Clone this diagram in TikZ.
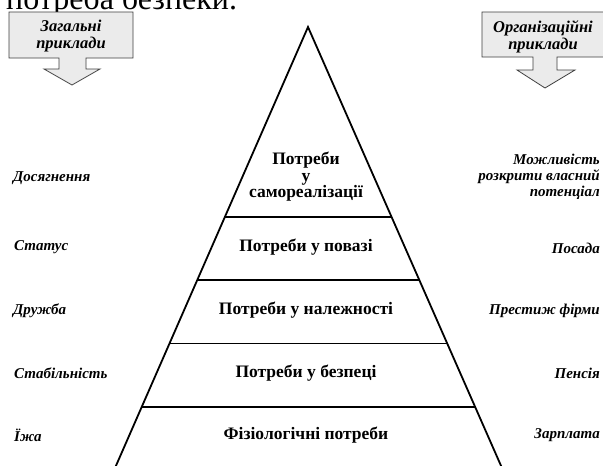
\documentclass[tikz,border=0pt]{standalone}
\usepackage{fontspec}
\setmainfont{Liberation Serif}
\usetikzlibrary{calc}
\tikzset{
  pyr/.style={line width=1.8pt, line cap=round},
  level/.style={line width=1.6pt},
  needtext/.style={font=\fontsize{17.5}{16.5}\selectfont\bfseries, align=center, inner sep=0pt},
  lefttext/.style={font=\fontsize{15}{16}\selectfont\bfseries\itshape, anchor=west, inner sep=0pt},
  righttext/.style={font=\fontsize{15}{16}\selectfont\bfseries\itshape, anchor=east, align=right, inner sep=0pt},
  callout/.style={draw=black!75, fill=black!8, line width=0.8pt, line join=miter},
  callouttext/.style={font=\fontsize{16.5}{17}\selectfont\bfseries\itshape, align=center, inner sep=0pt},
}
\begin{document}
\begin{tikzpicture}[x=1pt,y=-1pt]
\clip (0,0) rectangle (603,466);
\fill[white] (0,0) rectangle (603,466);

% cut-off body text at the top
\node[anchor=base west, inner sep=0pt, font=\fontsize{32}{36}\selectfont] (toptext) at (6,9) {потреба безпеки.};

% callouts
\draw[callout] (9,12) -- (133,12) -- (133,58) -- (86,58) -- (86,69) -- (100,69) -- (72,85) -- (44,69) -- (59,69) -- (59,58) -- (9,58) -- cycle;
\node[callouttext] (gen) at (71,36) {Загальні\\приклади};
\draw[callout] (482,12) -- (604,12) -- (604,57) -- (557,57) -- (557,70) -- (575,70) -- (545,88) -- (517,70) -- (533,70) -- (533,57) -- (482,57) -- cycle;
\node[callouttext] (org) at (543,37) {Організаційні\\приклади};

% pyramid
\coordinate (apex) at (308,27);
\coordinate (bl) at (115,468);
\coordinate (br) at (502,468);
\draw[pyr] (bl) -- (apex) -- (br);
\foreach \t/\n in {0.4305/a,0.574/b,0.7175/c,0.861/d}{
  \draw[level] ($(apex)!\t!(bl)$) coordinate (l\n) -- ($(apex)!\t!(br)$) coordinate (r\n);
}

% need labels
\node[needtext] (n5) at (306,177) {Потреби\\у\\самореалізації};
\node[needtext] (n4) at (306,247) {Потреби у повазі};
\node[needtext] (n3) at (306,310) {Потреби у належності};
\node[needtext] (n2) at (306,373) {Потреби у безпеці};
\node[needtext] (n1) at (306,435) {Фізіологічні потреби};

% left examples
\node[lefttext] (g5) at (13,178) {Досягнення};
\node[lefttext] (g4) at (14,247) {Статус};
\node[lefttext] (g3) at (13,311) {Дружба};
\node[lefttext] (g2) at (14,373) {Стабільність};
\node[lefttext] (g1) at (14,435) {Їжа};

% right examples
\node[righttext] (o5) at (600,177) {Можливість\\розкрити власний\\потенціал};
\node[righttext] (o4) at (600,248) {Посада};
\node[righttext] (o3) at (600,311) {Престиж фірми};
\node[righttext] (o2) at (600,373) {Пенсія};
\node[righttext] (o1) at (600,435) {Зарплата};
\end{tikzpicture}
\end{document}
